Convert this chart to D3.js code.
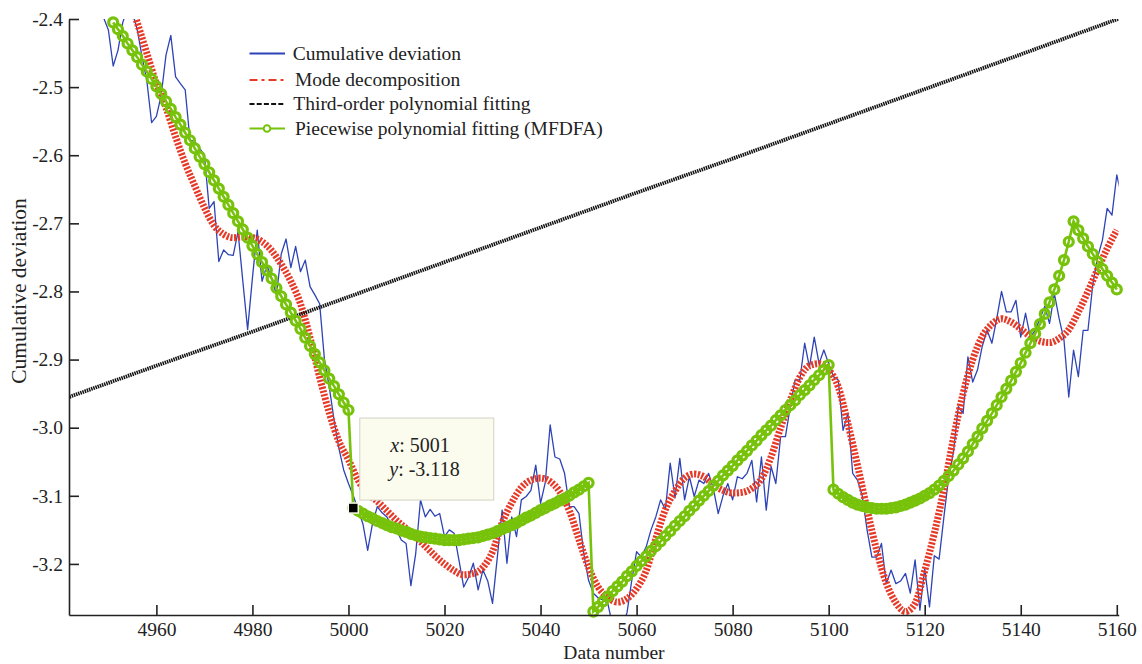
<!DOCTYPE html>
<html>
<head>
<meta charset="utf-8">
<script src="https://cdn.jsdelivr.net/npm/d3@7"></script>
<style>
body { margin: 0; background: #fff; }
svg { display: block; }
svg text { font-family: "Liberation Serif", "Times New Roman", serif; }
</style>
</head>
<body>
<svg></svg>
<script>
// cumulative deviation, one value per data number starting at 4948
const cumStart = 4948;
const cumDev = [
	-2.37, -2.398, -2.416, -2.469, -2.446, -2.405, -2.385, -2.39, -2.415, -2.455,
	-2.49, -2.552, -2.543, -2.512, -2.453, -2.424, -2.485, -2.495, -2.504, -2.578,
	-2.58, -2.59, -2.6, -2.678, -2.668, -2.756, -2.739, -2.746, -2.747, -2.712,
	-2.785, -2.856, -2.78, -2.71, -2.785, -2.762, -2.78, -2.805, -2.745, -2.723,
	-2.765, -2.734, -2.771, -2.754, -2.793, -2.805, -2.818, -2.9, -2.94, -2.989,
	-3.03, -3.062, -3.082, -3.1, -3.12, -3.141, -3.18, -3.141, -3.116, -3.125,
	-3.131, -3.145, -3.15, -3.165, -3.17, -3.232, -3.185, -3.106, -3.131, -3.12,
	-3.13, -3.126, -3.16, -3.15, -3.155, -3.194, -3.234, -3.22, -3.199, -3.238,
	-3.209, -3.225, -3.258, -3.19, -3.121, -3.199, -3.131, -3.16, -3.106, -3.101,
	-3.092, -3.055, -3.111, -3.08, -2.996, -3.043, -3.046, -3.067, -3.116, -3.116,
	-3.126, -3.185, -3.224, -3.243, -3.25, -3.253, -3.258, -3.29, -3.3, -3.29,
	-3.272, -3.224, -3.182, -3.19, -3.175, -3.15, -3.131, -3.106, -3.12, -3.052,
	-3.103, -3.045, -3.106, -3.072, -3.101, -3.077, -3.082, -3.067, -3.09, -3.126,
	-3.1, -3.082, -3.106, -3.072, -3.075, -3.067, -3.048, -3.109, -3.043, -3.121,
	-3.057, -3.082, -3.013, -3.013, -2.969, -2.93, -2.93, -2.876, -2.911, -2.867,
	-2.906, -2.886, -2.906, -2.925, -2.93, -3.004, -2.979, -3.067, -3.077, -3.1,
	-3.15, -3.19, -3.19, -3.17, -3.229, -3.209, -3.229, -3.225, -3.214, -3.243,
	-3.194, -3.268, -3.207, -3.263, -3.188, -3.193, -3.131, -3.072, -3.035, -2.969,
	-2.979, -2.896, -2.933, -2.915, -2.88, -2.857, -2.876, -2.84, -2.8, -2.83,
	-2.83, -2.813, -2.867, -2.832, -2.867, -2.857, -2.84, -2.822, -2.847, -2.803,
	-2.84, -2.871, -2.955, -2.886, -2.925, -2.857, -2.857, -2.79, -2.75, -2.725,
	-2.678, -2.688, -2.629, -2.66
];

// mode decomposition, every 2nd data number from 4954
const modeStart = 4954;
const modeStep = 2;
const modeDecomp = [
	-2.36, -2.405, -2.45, -2.495, -2.53, -2.573, -2.612, -2.645, -2.677, -2.703,
	-2.716, -2.721, -2.72, -2.721, -2.727, -2.74, -2.76, -2.785, -2.818, -2.868,
	-2.926, -2.978, -3.02, -3.047, -3.077, -3.097, -3.108, -3.122, -3.136, -3.148,
	-3.16, -3.174, -3.188, -3.2, -3.21, -3.216, -3.214, -3.205, -3.182, -3.14,
	-3.11, -3.088, -3.077, -3.074, -3.079, -3.094, -3.122, -3.164, -3.205, -3.234,
	-3.249, -3.256, -3.251, -3.236, -3.21, -3.163, -3.12, -3.093, -3.074, -3.068,
	-3.072, -3.084, -3.092, -3.096, -3.095, -3.089, -3.075, -3.043, -3.0, -2.96,
	-2.926, -2.909, -2.906, -2.915, -2.94, -2.994, -3.055, -3.12, -3.18, -3.228,
	-3.257, -3.27, -3.258, -3.21, -3.155, -3.09, -3.015, -2.95, -2.9, -2.866,
	-2.848, -2.84, -2.845, -2.855, -2.866, -2.873, -2.875, -2.869, -2.856, -2.83,
	-2.8, -2.768, -2.737, -2.71
];

// third-order polynomial fitting
const polyX = [4941, 4960, 4980, 5000, 5020, 5040, 5060, 5080, 5100, 5120, 5140, 5161];
const polyFit = [-2.957, -2.909, -2.859, -2.808, -2.757, -2.706, -2.655, -2.605, -2.554, -2.503, -2.452, -2.398];

// piecewise polynomial fitting (MFDFA), one value per data number from 4951
const mfdfaStart = 4951;
const mfdfaFit = [
	// 4951-5000
	-2.405, -2.415, -2.425, -2.436, -2.446, -2.456, -2.467, -2.477, -2.488, -2.499,
	-2.510, -2.521, -2.532, -2.544, -2.555, -2.567, -2.578, -2.590, -2.602, -2.613,
	-2.625, -2.637, -2.649, -2.661, -2.673, -2.685, -2.697, -2.709, -2.721, -2.733,
	-2.745, -2.757, -2.769, -2.781, -2.795, -2.807, -2.819, -2.831, -2.843, -2.855,
	-2.868, -2.880, -2.892, -2.904, -2.916, -2.928, -2.939, -2.951, -2.963, -2.974,
	// 5001-5050
	-3.118, -3.122, -3.126, -3.130, -3.133, -3.137, -3.140, -3.143, -3.146, -3.148,
	-3.151, -3.153, -3.156, -3.158, -3.160, -3.161, -3.162, -3.163, -3.164, -3.165,
	-3.165, -3.165, -3.165, -3.164, -3.163, -3.162, -3.161, -3.159, -3.157, -3.155,
	-3.152, -3.149, -3.146, -3.143, -3.140, -3.136, -3.132, -3.129, -3.125, -3.121,
	-3.118, -3.114, -3.111, -3.107, -3.104, -3.100, -3.095, -3.091, -3.086, -3.081,
	// 5051-5100
	-3.270, -3.263, -3.255, -3.248, -3.240, -3.233, -3.226, -3.218, -3.211, -3.203,
	-3.196, -3.189, -3.181, -3.174, -3.167, -3.159, -3.152, -3.144, -3.137, -3.130,
	-3.122, -3.115, -3.107, -3.100, -3.093, -3.085, -3.078, -3.070, -3.063, -3.056,
	-3.048, -3.041, -3.034, -3.026, -3.019, -3.011, -3.004, -2.997, -2.989, -2.982,
	-2.974, -2.967, -2.960, -2.952, -2.945, -2.938, -2.930, -2.923, -2.915, -2.908,
	// 5101-5150
	-3.091, -3.097, -3.102, -3.106, -3.110, -3.113, -3.115, -3.117, -3.118, -3.119,
	-3.119, -3.119, -3.118, -3.117, -3.115, -3.113, -3.110, -3.107, -3.104, -3.100,
	-3.096, -3.091, -3.085, -3.078, -3.071, -3.063, -3.054, -3.045, -3.035, -3.024,
	-3.013, -3.001, -2.990, -2.979, -2.967, -2.955, -2.943, -2.931, -2.918, -2.905,
	-2.890, -2.876, -2.862, -2.848, -2.833, -2.816, -2.797, -2.777, -2.754, -2.727,
	// 5151-5160
	-2.697, -2.710, -2.722, -2.734, -2.745, -2.756, -2.767, -2.777, -2.787, -2.797
];

const xTicks = [4960, 4980, 5000, 5020, 5040, 5060, 5080, 5100, 5120, 5140, 5160];
const yTicks = [-3.2, -3.1, -3.0, -2.9, -2.8, -2.7, -2.6, -2.5, -2.4];
const yTickLabels = ["-3.2", "-3.1", "-3.0", "-2.9", "-2.8", "-2.7", "-2.6", "-2.5", "-2.4"];

const legendLabels = [
	"Cumulative deviation",
	"Mode decomposition",
	"Third-order polynomial fitting",
	"Piecewise polynomial fitting (MFDFA)"
];

// data tip shown on the plot
const tipX = 5001;
const tipY = -3.118;

const w = 1142, h = 664;
const plot = {left: 69, right: 1118.7, top: 19, bottom: 615};
const FONT = '"Liberation Serif", "Times New Roman", serif';

const COL_BLUE = '#2d43b6';
const COL_RED = '#e63a28';
const COL_BLACK = '#111';
const COL_GREEN = '#77c20a';

const svg = d3.select('svg')
	.attr('width', w)
	.attr('height', h)
	.attr('viewBox', [0, 0, w, h])
	.attr('font-family', FONT);

svg.append('rect')
	.attr('width', w)
	.attr('height', h)
	.attr('fill', '#fff');

const xScale = d3.scaleLinear()
	.domain([4941.8, 5160.4])
	.range([plot.left, plot.right]);

const yScale = d3.scaleLinear()
	.domain([-3.275, -2.4])
	.range([plot.bottom, plot.top]);

svg.append('clipPath')
	.attr('id', 'clip')
	.append('rect')
		.attr('x', plot.left)
		.attr('y', plot.top)
		.attr('width', plot.right - plot.left)
		.attr('height', plot.bottom - plot.top);

const cumData = cumDev.map((v, i) => ({x: cumStart + i, y: v}));
const modeData = modeDecomp.map((v, i) => ({x: modeStart + i * modeStep, y: v}));
const polyData = polyFit.map((v, i) => ({x: polyX[i], y: v}));
const mfdfaData = mfdfaFit.map((v, i) => ({x: mfdfaStart + i, y: v}));

const line = d3.line()
	.x(d => xScale(d.x))
	.y(d => yScale(d.y));

const lines = svg.append('g').attr('clip-path', 'url(#clip)');

lines.append('path')
	.datum(cumData)
	.attr('fill', 'none')
	.attr('stroke', COL_BLUE)
	.attr('stroke-width', 1.3)
	.attr('stroke-linejoin', 'round')
	.attr('d', line);

lines.append('path')
	.datum(modeData)
	.attr('fill', 'none')
	.attr('stroke', COL_RED)
	.attr('stroke-width', 7)
	.attr('stroke-dasharray', '2.2 1.5')
	.attr('d', line.curve(d3.curveMonotoneX));

line.curve(d3.curveLinear);

lines.append('path')
	.datum(polyData)
	.attr('fill', 'none')
	.attr('stroke', COL_BLACK)
	.attr('stroke-width', 3.8)
	.attr('stroke-dasharray', '1.5 0.8')
	.attr('d', line);

// green fit goes above the axis box a little (markers not clipped)
svg.append('path')
	.datum(mfdfaData)
	.attr('fill', 'none')
	.attr('stroke', COL_GREEN)
	.attr('stroke-width', 2.6)
	.attr('d', line);

svg.append('g')
	.selectAll('circle')
	.data(mfdfaData)
	.enter()
	.append('circle')
		.attr('cx', d => xScale(d.x))
		.attr('cy', d => yScale(d.y))
		.attr('r', 4.5)
		.attr('fill', 'none')
		.attr('stroke', COL_GREEN)
		.attr('stroke-width', 3.2);

// axes, ticks point inward
const xAxis = svg.append('g')
	.attr('transform', `translate(0,${plot.bottom})`)
	.call(d3.axisBottom(xScale)
		.tickValues(xTicks)
		.tickFormat(d3.format('d'))
		.tickSizeInner(-10)
		.tickSizeOuter(0)
		.tickPadding(7));

const yAxis = svg.append('g')
	.attr('transform', `translate(${plot.left},0)`)
	.call(d3.axisLeft(yScale)
		.tickValues(yTicks)
		.tickFormat((d, i) => yTickLabels[i])
		.tickSizeInner(-10)
		.tickSizeOuter(0)
		.tickPadding(6));

[xAxis, yAxis].forEach(g => {
	g.attr('font-family', FONT).attr('font-size', 19.5);
	g.selectAll('path, line').attr('stroke', '#222').attr('stroke-width', 1.6);
	g.selectAll('text').attr('fill', '#222');
});

svg.append('text')
	.attr('x', 614)
	.attr('y', 659)
	.attr('text-anchor', 'middle')
	.attr('font-size', 19.5)
	.attr('fill', '#222')
	.text('Data number');

svg.append('text')
	.attr('transform', 'translate(26,291) rotate(-90)')
	.attr('text-anchor', 'middle')
	.attr('font-size', 21.5)
	.attr('fill', '#222')
	.text('Cumulative deviation');

// legend
const legendRows = [53.5, 80, 104, 128.5];
const legendTextX = [292.7, 295, 293.3, 295];
const legend = svg.append('g');

legendLabels.forEach((label, i) => {
	const y = legendRows[i];
	const sample = legend.append('line')
		.attr('x1', 249.5)
		.attr('x2', 285)
		.attr('y1', y)
		.attr('y2', y)
		.attr('stroke-width', 2);
	if (i === 0) sample.attr('stroke', COL_BLUE);
	if (i === 1) sample.attr('stroke', COL_RED).attr('stroke-dasharray', '8 4 3 4');
	if (i === 2) sample.attr('stroke', COL_BLACK).attr('stroke-dasharray', '5 2.2');
	if (i === 3) {
		sample.attr('stroke', COL_GREEN);
		legend.append('circle')
			.attr('cx', 267)
			.attr('cy', y)
			.attr('r', 3.3)
			.attr('fill', '#fff')
			.attr('stroke', COL_GREEN)
			.attr('stroke-width', 2);
	}
	legend.append('text')
		.attr('x', legendTextX[i])
		.attr('y', y)
		.attr('dy', '0.33em')
		.attr('font-size', 19.5)
		.attr('fill', '#222')
		.text(label);
});

// data tip
const tx = xScale(tipX), ty = yScale(tipY);
svg.append('rect')
	.attr('x', tx + 6.5)
	.attr('y', ty - 90)
	.attr('width', 134)
	.attr('height', 82)
	.attr('fill', '#fbfbee')
	.attr('stroke', '#d2d2c6');

const tip = svg.append('g')
	.attr('font-size', 20)
	.attr('fill', '#222');
const tipLine1 = tip.append('text').attr('x', tx + 37).attr('y', ty - 56);
tipLine1.append('tspan').attr('font-style', 'italic').text('x');
tipLine1.append('tspan').text(': ' + tipX);
const tipLine2 = tip.append('text').attr('x', tx + 36).attr('y', ty - 32);
tipLine2.append('tspan').attr('font-style', 'italic').text('y');
tipLine2.append('tspan').text(': ' + tipY);

svg.append('rect')
	.attr('x', tx - 5)
	.attr('y', ty - 5)
	.attr('width', 10)
	.attr('height', 10)
	.attr('fill', '#000')
	.attr('stroke', '#fbfbee')
	.attr('stroke-width', 1.5);
</script>
</body>
</html>
